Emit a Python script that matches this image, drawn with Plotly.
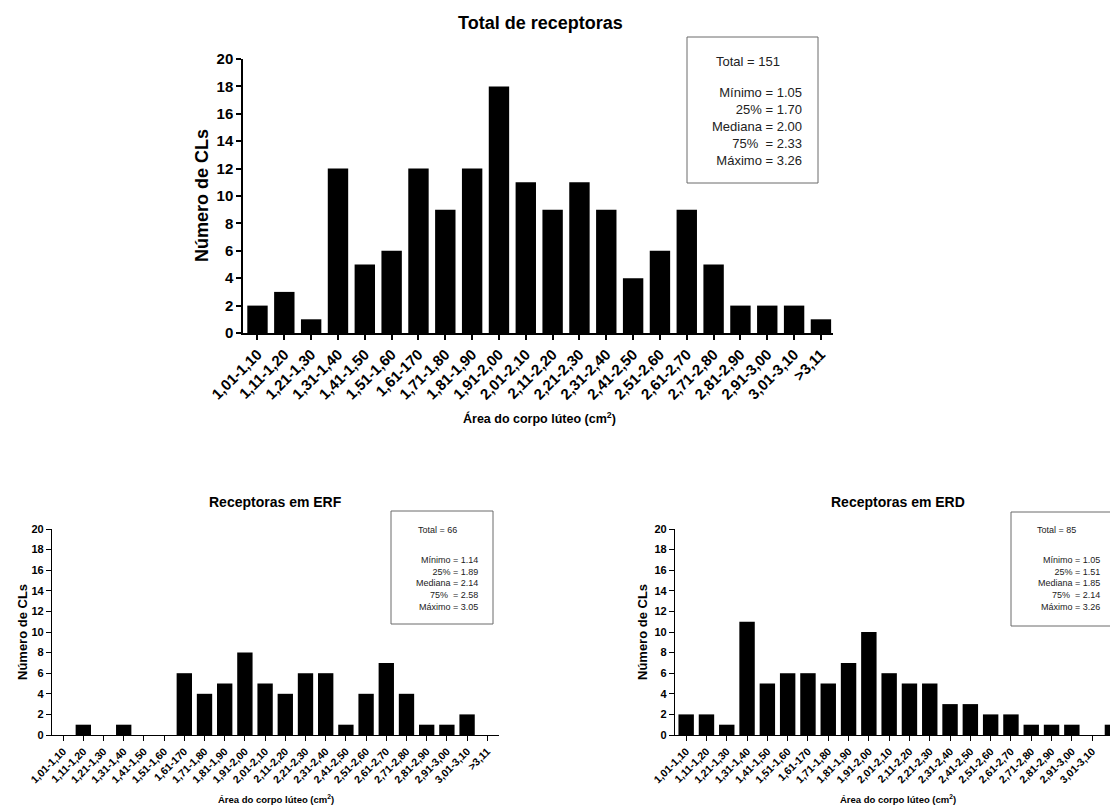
import plotly.graph_objects as go

W, H = 1110, 807

categories = ["1,01-1,10", "1,11-1,20", "1,21-1,30", "1,31-1,40", "1,41-1,50", "1,51-1,60",
              "1,61-170", "1,71-1,80", "1,81-1,90", "1,91-2,00", "2,01-2,10", "2,11-2,20",
              "2,21-2,30", "2,31-2,40", "2,41-2,50", "2,51-2,60", "2,61-2,70", "2,71-2,80",
              "2,81-2,90", "2,91-3,00", "3,01-3,10", ">3,11"]

total_counts = [2, 3, 1, 12, 5, 6, 12, 9, 12, 18, 11, 9, 11, 9, 4, 6, 9, 5, 2, 2, 2, 1]
erf_counts = [0, 1, 0, 1, 0, 0, 6, 4, 5, 8, 5, 4, 6, 6, 1, 4, 7, 4, 1, 1, 2, 0]
erd_counts = [2, 2, 1, 11, 5, 6, 6, 5, 7, 10, 6, 5, 5, 3, 3, 2, 2, 1, 1, 1, 0, 1]

titles = ["Total de receptoras", "Receptoras em ERF", "Receptoras em ERD"]
y_title = "Número de CLs"
x_title = "Área do corpo lúteo (cm<sup>2</sup>)"

stats_total = ["Total = 151", "Mínimo = 1.05", "25% = 1.70", "Mediana = 2.00", "75%  = 2.33", "Máximo = 3.26"]
stats_erf = ["Total = 66", "Mínimo = 1.14", "25% = 1.89", "Mediana = 2.14", "75%  = 2.58", "Máximo = 3.05"]
stats_erd = ["Total = 85", "Mínimo = 1.05", "25% = 1.51", "Mediana = 1.85", "75%  = 2.14", "Máximo = 3.26"]

FONT = "Liberation Sans, Arial, sans-serif"


def X(px):
    return px / W


def Y(py):
    return 1 - py / H


fig = go.Figure()

panels = [
    dict(counts=total_counts, ax="", xd=(243, 833), yd=(59, 333), xr=[-0.54, 21.45],
         tick=15, xtick=15, lw=1.5, title=titles[0], tpos=(540, 23), tsize=18,
         ypos=(202, 196), ysize=18, xpos=(539, 418), xsize=12.5,
         box=(687, 37, 818, 183), tot=(748, 61), lines=(804, 126), ssize=13, stats=stats_total),
    dict(counts=erf_counts, ax="2", xd=(52, 499), yd=(529, 735), xr=[-0.55, 21.58],
         tick=11, xtick=10.6, lw=1.2, title=titles[1], tpos=(275, 502), tsize=14,
         ypos=(22, 632), ysize=13, xpos=(276, 799), xsize=9.5,
         box=(391, 511, 493, 624), tot=(437, 530), lines=(480, 583), ssize=9, stats=stats_erf),
    dict(counts=erd_counts, ax="3", xd=(675, 1110), yd=(529, 735), xr=[-0.55, 20.88],
         tick=11, xtick=10.6, lw=1.2, title=titles[2], tpos=(898, 502), tsize=14,
         ypos=(642, 632), ysize=13, xpos=(898, 799), xsize=9.5,
         box=(1011, 512, 1125, 626), tot=(1056, 530), lines=(1102, 583), ssize=9, stats=stats_erd),
]

for p in panels:
    xa = "x" + p["ax"]
    ya = "y" + p["ax"]
    fig.add_trace(go.Bar(x=categories, y=p["counts"], xaxis=xa, yaxis=ya,
                         marker=dict(color="black", line=dict(width=0)), width=0.76,
                         showlegend=False))
    xkey = "xaxis" + p["ax"]
    ykey = "yaxis" + p["ax"]
    fig.update_layout({
        xkey: dict(domain=[X(p["xd"][0]), X(p["xd"][1])], anchor=ya, type="category",
                   range=p["xr"], showline=True, linecolor="black", linewidth=p["lw"],
                   ticks="outside", ticklen=5, tickwidth=p["lw"], tickcolor="black",
                   tickangle=-45, showgrid=False, zeroline=False, automargin=False,
                   tickfont=dict(family=FONT, size=p["xtick"], color="black", weight="bold")),
        ykey: dict(domain=[Y(p["yd"][1]), Y(p["yd"][0])], anchor=xa, range=[0, 20],
                   tickmode="linear", tick0=0, dtick=2, showline=True, linecolor="black",
                   linewidth=p["lw"], ticks="outside", ticklen=5, tickwidth=p["lw"],
                   tickcolor="black", showgrid=False, zeroline=False, automargin=False,
                   tickfont=dict(family=FONT, size=p["tick"], color="black", weight="bold")),
    })
    fig.add_annotation(xref="paper", yref="paper", x=X(p["tpos"][0]), y=Y(p["tpos"][1]),
                       text="<b>" + p["title"] + "</b>", showarrow=False,
                       xanchor="center", yanchor="middle",
                       font=dict(family=FONT, size=p["tsize"], color="black"))
    fig.add_annotation(xref="paper", yref="paper", x=X(p["ypos"][0]), y=Y(p["ypos"][1]),
                       text="<b>" + y_title + "</b>", showarrow=False, textangle=-90,
                       xanchor="center", yanchor="middle",
                       font=dict(family=FONT, size=p["ysize"], color="black"))
    fig.add_annotation(xref="paper", yref="paper", x=X(p["xpos"][0]), y=Y(p["xpos"][1]),
                       text="<b>" + x_title + "</b>", showarrow=False,
                       xanchor="center", yanchor="middle",
                       font=dict(family=FONT, size=p["xsize"], color="black"))
    bx0, by0, bx1, by1 = p["box"]
    fig.add_shape(type="rect", xref="paper", yref="paper", x0=X(bx0), x1=X(bx1),
                  y0=Y(by1), y1=Y(by0), line=dict(color="#6b6b6b", width=1),
                  fillcolor="rgba(0,0,0,0)")
    fig.add_annotation(xref="paper", yref="paper", x=X(p["tot"][0]), y=Y(p["tot"][1]),
                       text=p["stats"][0], showarrow=False, xanchor="center", yanchor="middle",
                       font=dict(family=FONT, size=p["ssize"], color="#222"))
    fig.add_annotation(xref="paper", yref="paper", x=X(p["lines"][0]), y=Y(p["lines"][1]),
                       text="<br>".join(p["stats"][1:]), showarrow=False, align="right",
                       xanchor="right", yanchor="middle",
                       font=dict(family=FONT, size=p["ssize"], color="#222"))

fig.update_layout(template="none", width=W, height=H, margin=dict(l=0, r=0, t=0, b=0),
                  paper_bgcolor="white", plot_bgcolor="white", bargap=0.24,
                  font=dict(family=FONT, color="black"))

fig.write_html("out.html", config={"displayModeBar": False},
               post_script="document.body.style.margin='0px';document.body.style.overflow='hidden';")
